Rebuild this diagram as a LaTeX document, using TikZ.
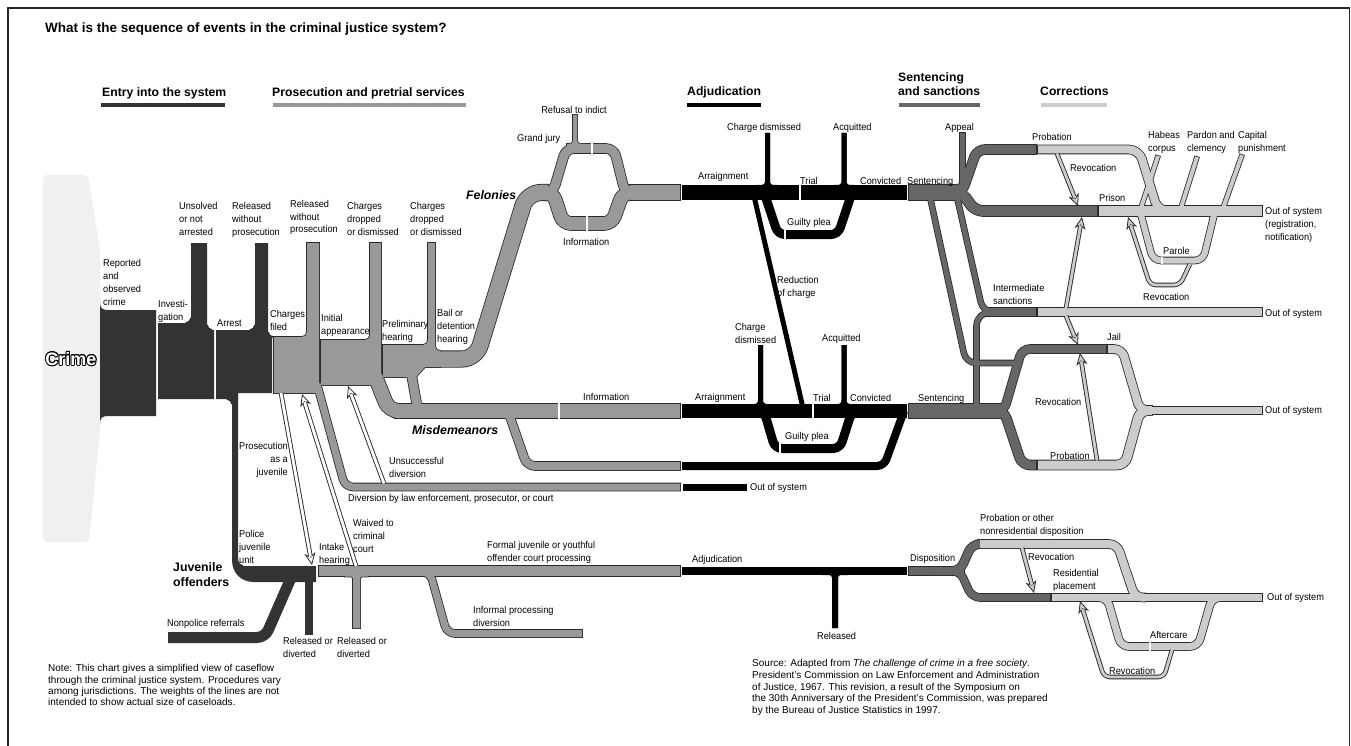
\documentclass[tikz,border=0pt]{standalone}
\usepackage{fontspec}
\setmainfont{Liberation Sans}
\newfontfamily\lbfont{Liberation Sans}[FakeStretch=0.93]
\usetikzlibrary{arrows.meta}
\definecolor{cE}{HTML}{333333}
\definecolor{cP}{HTML}{999999}
\definecolor{cS}{HTML}{666666}
\definecolor{cC}{HTML}{CCCCCC}
\definecolor{ol}{HTML}{2A2A2A}
\definecolor{bgc}{HTML}{F0F0F0}
\pgfdeclarelayer{bg}
\pgfsetlayers{bg,main}
\newcommand\Bnd[4][8]{%
  \pgfmathsetmacro\olw{#3+1.6}%
  \begin{pgfonlayer}{bg}\draw[draw=ol,line width=\olw pt,rounded corners=#1pt,shorten <=-0.8pt,shorten >=-0.8pt] #4;\end{pgfonlayer}%
  \draw[draw=#2,line width=#3pt,rounded corners=#1pt] #4;}
\newcommand\Blk[2]{%
  \begin{pgfonlayer}{bg}\draw[draw=ol,line width=1.6pt] #2;\end{pgfonlayer}%
  \fill[#1] #2;}
\newcommand\Fil[5]{%
  \begin{scope}[shift={(#2,#3)},xscale=#4,yscale=#5]
  \begin{pgfonlayer}{bg}\draw[draw=ol,line width=1.6pt] (0,-5) .. controls (0,-2.2) and (-2.2,0) .. (-5,0);\end{pgfonlayer}
  \fill[#1] (0,-5) .. controls (0,-2.2) and (-2.2,0) .. (-5,0) -- (0,0) -- cycle;
  \end{scope}}
\newcommand\Gap[3]{\draw[white,line width=1.8pt] (#1,#2) -- (#1,#3);}
\newcommand\Arw[2]{%
  \draw[draw=ol,line width=4.6pt,rounded corners=6pt,-{Stealth[length=12pt,width=11pt,inset=3.5pt,fill=#1,line width=0.8pt]}] #2;
  \draw[draw=#1,line width=2.8pt,rounded corners=6pt,shorten >=8.5pt] #2;}
\begin{document}
\begin{tikzpicture}[x=1pt,y=-1pt,
  lb/.style={font=\lbfont\fontsize{9.9}{12.8}\selectfont,inner sep=0pt,anchor=north west,align=left},
  nt/.style={font=\fontsize{10}{11.7}\selectfont,inner sep=0pt,anchor=north west,align=left},
  hd/.style={font=\fontsize{12.2}{14}\selectfont\bfseries,inner sep=0pt,anchor=north west,align=left},
  bi/.style={font=\fontsize{12.3}{15}\selectfont\bfseries\itshape,inner sep=0pt,anchor=north west,align=left},
  bk/.style={draw=black,line width=#1pt,rounded corners=7pt},
  dk/.style={draw=cE,line width=#1pt,rounded corners=8pt}]
\useasboundingbox (0,0) rectangle (1351,746);
\draw[line width=1.3pt,black!85] (8,746) -- (8,8) -- (1349.5,8) -- (1349.5,746);

% title and headers
\node[font=\fontsize{13.5}{15}\selectfont\bfseries,inner sep=0pt,anchor=north west] (title) at (45,22.5) {What is the sequence of events in the criminal justice system?};
\node[hd] (h1) at (102,87.5) {Entry into the system};
\fill[cE] (101,103) rectangle (225,107.5);
\node[hd] (h2) at (272,87.5) {Prosecution and pretrial services};
\fill[cP] (273,103) rectangle (466,107.5);
\node[hd] (h3) at (687,86.5) {Adjudication};
\fill[black] (687,103) rectangle (761,107.5);
\node[hd] (h4) at (898,72.5) {Sentencing\\and sanctions};
\fill[cS] (899,103) rectangle (980,107.5);
\node[hd] (h5) at (1040,86.5) {Corrections};
\fill[cC] (1041,103) rectangle (1107,107.5);

% crime
\fill[bgc,rounded corners=4pt] (43,175) -- (88,175) -- (100,250) -- (100,430) -- (89,542) -- (43,542) -- cycle;
\fill[cE] (100,302) .. controls (100,308) and (102,310) .. (108,310) -- (156,310) -- (156,416) -- (108,416) .. controls (102,416) and (100,418) .. (100,424) -- cycle;
\foreach \a in {0,30,...,330} \path (71,359) ++(\a:0.9) node[font=\fontsize{18}{18}\selectfont\bfseries,text=black] {Crime};
\node[font=\fontsize{18}{18}\selectfont\bfseries,text=white] (crime) at (71,359) {Crime};

% entry blocks
\fill[cE] (158,323) -- (191,323) -- (191,243) -- (207,243) -- (207,330) -- (214,330) -- (214,399) -- (158,399) -- cycle;
\fill[cE] (216,330) -- (255,330) -- (255,243) -- (268,243) -- (268,337) -- (272,337) -- (272,393) -- (238,393) -- (238,399) -- (216,399) -- cycle;
\fill[cE] (232,396) -- (232,560) .. controls (232,573) and (241,582) .. (254,582) -- (316,582) -- (316,566) -- (238,566) -- (238,396) -- cycle;
\Fil{cE}{191}{323}{1}{1}\Fil{cE}{207}{330}{-1}{1}\Fil{cE}{255}{330}{1}{1}\Fil{cE}{268}{337}{-1}{1}
\Fil{cE}{232}{399}{1}{-1}\Fil{cE}{238}{566}{-1}{1}
\draw[dk=11] (168,637.5) -- (265,637.5) -- (291,578);
\draw[cE,line width=8pt] (309,578) -- (309,635);

% prosecution blocks
\Blk{cP}{(274,337) -- (307,337) -- (307,243) -- (319,243) -- (319,393) -- (274,393) -- cycle}
\Blk{cP}{(321,340) -- (370,340) -- (370,243) -- (381,243) -- (381,385) -- (321,385) -- cycle}
\Blk{cP}{(383,345) -- (428,345) -- (428,243) -- (435,243) -- (435,351) -- (440,351) -- (440,367) -- (425,367) -- (416,377) -- (383,377) -- cycle}
\Fil{cP}{307}{337}{1}{1}\Fil{cP}{370}{340}{1}{1}\Fil{cP}{428}{345}{1}{1}\Fil{cP}{435}{351}{-1}{1}

% felonies
\Bnd[14]{cP}{15.5}{(430,359) -- (476,359) -- (527,192.5) -- (548,192.5)}
\Bnd[8]{cP}{9}{(540,192.5) -- (553,192.5) -- (566,148.5) -- (614,148.5) -- (625,192.5) -- (636,192.5)}
\Bnd[8]{cP}{13}{(540,192.5) -- (553,192.5) -- (563,223.5) -- (612,223.5) -- (623,192.5) -- (636,192.5)}
\Bnd{cP}{15}{(630,192.5) -- (680,192.5)}
\Bnd[5]{cP}{4}{(575,115) -- (575,146) -- (567,146)}
\Bnd[5]{cP}{4}{(575,115) -- (575,146) -- (583,146)}
% misdemeanors
\Bnd[10]{cP}{14}{(375,376) -- (389,411) -- (400,411)}
\Bnd[8]{cP}{9}{(411,372) -- (418,411) -- (430,411)}
\Bnd{cP}{14}{(395,411) -- (680,411)}
\Bnd[8]{cP}{8}{(500,411) -- (508,411) -- (527,466) -- (680,466)}
\Bnd[8]{cP}{7}{(317,384) -- (345,487) -- (680,487)}
% juvenile gray
\Bnd{cP}{10}{(319,571) -- (680,571)}
\Bnd[6]{cP}{7}{(345,573) -- (356.5,573) -- (356.5,628)}
\Bnd[6]{cP}{7}{(368,573) -- (356.5,573) -- (356.5,628)}
\Bnd[8]{cP}{7}{(418,572) -- (430,572) -- (447,633.5) -- (582,633.5)}
\Gap{592}{143}{154}\Gap{587}{216}{231}\Gap{559}{403}{419}

% adjudication
\draw[bk=15] (682,192.5) -- (907,192.5);
\draw[bk=14] (682,411) -- (907,411);
\draw[bk=8] (682,466) -- (884,466) -- (904,411);
\draw[bk=7] (683,487) -- (747,487);
\draw[bk=8] (682,571) -- (907,571);
\draw[bk=5,rounded corners=6pt] (767.5,133) -- (767.5,187.5) -- (757,187.5);
\draw[bk=5,rounded corners=6pt] (767.5,133) -- (767.5,187.5) -- (778,187.5);
\draw[bk=5,rounded corners=6pt] (844,133) -- (844,187.5) -- (834,187.5);
\draw[bk=5,rounded corners=6pt] (844,133) -- (844,187.5) -- (854,187.5);
\draw[bk=5,rounded corners=6pt] (760.5,345) -- (760.5,406.5) -- (750,406.5);
\draw[bk=5,rounded corners=6pt] (760.5,345) -- (760.5,406.5) -- (771,406.5);
\draw[bk=5,rounded corners=6pt] (844,345) -- (844,406.5) -- (834,406.5);
\draw[bk=5,rounded corners=6pt] (844,345) -- (844,406.5) -- (854,406.5);
\draw[bk=5] (754,196) -- (803,408);
\draw[bk=9] (750,192.5) -- (764,192.5) -- (778,234.5) -- (838,234.5) -- (852,192.5) -- (866,192.5);
\draw[bk=9] (750,411) -- (764,411) -- (775,448.5) -- (840,448.5) -- (852,411) -- (866,411);
\draw[bk=6,rounded corners=6pt] (822,572) -- (835,572) -- (835,628);
\draw[bk=6,rounded corners=6pt] (848,572) -- (835,572) -- (835,628);
\Gap{800}{184}{201}\Gap{813}{403}{419}\Gap{785}{229}{240}\Gap{780}{443}{454}

% sentencing
\Bnd{cS}{15}{(909,192.5) -- (966,192.5)}
\Bnd[8]{cS}{9}{(930,192.5) -- (962,192.5) -- (977,149.5) -- (1036,149.5)}
\Bnd[8]{cS}{10}{(930,192.5) -- (962,192.5) -- (975,211) -- (1097,211)}
\Bnd[5]{cS}{5}{(962.5,133) -- (962.5,187.5) -- (953,187.5)}
\Bnd[10]{cS}{5}{(930,197) -- (966,363) -- (1018,363)}
\Bnd[10]{cS}{5}{(957,197) -- (983,312) -- (1000,312)}
\Bnd{cS}{8}{(983,312) -- (1036,312)}
\Bnd{cS}{14}{(909,411) -- (1007,411)}
\Bnd[14]{cS}{5}{(976.5,406) -- (976.5,312) -- (1000,312)}
\Bnd[8]{cS}{8}{(960,411) -- (1004,411) -- (1022,349) -- (1106,349)}
\Bnd[8]{cS}{9}{(960,411) -- (1004,411) -- (1022,465) -- (1036,465)}
\Bnd{cS}{8}{(909,571) -- (964,571)}
\Bnd[8]{cS}{8}{(930,571) -- (960,571) -- (972,544) -- (978,544)}
\Bnd[8]{cS}{7}{(930,571) -- (960,571) -- (972,597.5) -- (1050,597.5)}

% corrections
\Bnd[10]{cC}{8}{(1038,149.5) -- (1139,149.5) -- (1158,211) -- (1166,211)}
\Bnd{cC}{10}{(1099,211) -- (1262,211)}
\Bnd{cC}{4}{(1140,211) -- (1158,156)}
\Bnd{cC}{4}{(1180,211) -- (1197,157)}
\Bnd{cC}{4}{(1222,211) -- (1242,155)}
\Bnd[8]{cC}{6}{(1140,211) -- (1153,260.5) -- (1203,260.5) -- (1215,211)}
\Bnd{cC}{8}{(1038,312) -- (1262,312)}
\Bnd[8]{cC}{8}{(1108,349) -- (1122,349) -- (1140,410.5) -- (1152,410.5)}
\Bnd[8]{cC}{9}{(1038,465) -- (1125,465) -- (1140,410.5) -- (1152,410.5)}
\Bnd{cC}{7}{(1140,410.5) -- (1262,410.5)}
\Bnd[8]{cC}{8}{(980,544) -- (1117,544) -- (1135,597.5) -- (1145,597.5)}
\Bnd{cC}{7}{(1052,597.5) -- (1262,597.5)}
\Bnd[8]{cC}{7}{(1098,597.5) -- (1107,597.5) -- (1121,646.5) -- (1198,646.5) -- (1212,597.5) -- (1222,597.5)}
\Gap{1162}{257}{264}\Gap{1150}{642}{651}

% arrows
\Arw{white}{(281,393) -- (312,565)}
\Arw{white}{(356,566) -- (302,394)}
\Arw{white}{(384,483.5) -- (348,386)}
\Arw{cC}{(1057,153.5) -- (1078,206)}
\Arw{cC}{(1066,308) -- (1082,217)}
\Arw{cC}{(1190,264) -- (1180,285) -- (1150,285) -- (1128,217)}
\Arw{cC}{(1066,316) -- (1078,345)}
\Arw{cC}{(1097,460.5) -- (1080,353)}
\Arw{cC}{(1022,548) -- (1034,593)}
\Arw{cC}{(1172,650) -- (1164,677) -- (1104,677) -- (1080,601)}

% labels entry / prosecution
\node[lb] (l1) at (179,202.5) {Unsolved\\or not\\arrested};
\node[lb] (l2) at (232,202.5) {Released\\without\\prosecution};
\node[lb] (l3) at (290,200) {Released\\without\\prosecution};
\node[lb] (l4) at (347,202.5) {Charges\\dropped\\or dismissed};
\node[lb] (l5) at (410,202.5) {Charges\\dropped\\or dismissed};
\node[lb] (l6) at (103,259.5) {Reported\\and\\observed\\crime};
\node[lb] (l7) at (158,300.5) {Investi-\\gation};
\node[lb] (l8) at (217,319.5) {Arrest};
\node[lb] (l9) at (270,310.5) {Charges\\filed};
\node[lb] (l10) at (321,314.5) {Initial\\appearance};
\node[lb] (l11) at (382,320.5) {Preliminary\\hearing};
\node[lb] (l12) at (437,309.5) {Bail or\\detention\\hearing};
\node[bi] (fel) at (466,190.4) {Felonies};
\node[lb] (l13) at (517,134.5) {Grand jury};
\node[lb,anchor=north] (l14) at (574,106.5) {Refusal to indict};
\node[lb] (l15) at (563,238.5) {Information};
\node[bi] (mis) at (412,425.4) {Misdemeanors};
\node[lb] (l16) at (583,393.5) {Information};
\node[lb] (l17) at (389,457.5) {Unsuccessful\\diversion};
\node[lb] (l18) at (348,494.5) {Diversion by law enforcement, prosecutor, or court};
\node[lb,anchor=north east,align=right] (l19) at (288,442.5) {Prosecution\\as a\\juvenile};
\node[lb] (l20) at (239,530.5) {Police\\juvenile\\unit};
\node[hd,font=\fontsize{12.3}{15}\selectfont\bfseries] (juv) at (173,562.5) {Juvenile\\offenders};
\node[lb] (l21) at (167,619.5) {Nonpolice referrals};
\node[lb] (l22) at (283,637.5) {Released or\\diverted};
\node[lb] (l23) at (337,637.5) {Released or\\diverted};
\node[lb] (l24) at (319,543.5) {Intake\\hearing};
\node[lb] (l25) at (353,519.5) {Waived to\\criminal\\court};
\node[lb] (l26) at (487,541.5) {Formal juvenile or youthful\\offender court processing};
\node[lb] (l27) at (473,606.5) {Informal processing\\diversion};
\node[lb] (l28) at (692,555.5) {Adjudication};
\node[lb] (l29) at (817,632.5) {Released};
\node[lb] (l30) at (910,554.5) {Disposition};
\node[lb] (l31) at (980,514.5) {Probation or other\\nonresidential disposition};
\node[lb] (l32) at (1028,553.5) {Revocation};
\node[lb] (l33) at (1053,569.5) {Residential\\placement};
\node[lb] (l34) at (1267,593.5) {Out of system};
\node[lb] (l35) at (1150,631.5) {Aftercare};
\node[lb] (l36) at (1109,667.5) {Revocation};
% adjudication labels
\node[lb] (l37) at (698,172.5) {Arraignment};
\node[lb] (l38) at (727,123.5) {Charge dismissed};
\node[lb] (l39) at (833,123.5) {Acquitted};
\node[lb] (l40) at (800,177.5) {Trial};
\node[lb] (l41) at (860,177.5) {Convicted};
\node[lb] (l42) at (907,177.5) {Sentencing};
\node[lb] (l43) at (945,123.5) {Appeal};
\node[lb] (l44) at (787,218.5) {Guilty plea};
\node[lb] (l45) at (695,393.5) {Arraignment};
\node[lb] (l46) at (777,276.5) {Reduction\\of charge};
\node[lb] (l47) at (735,323.5) {Charge\\dismissed};
\node[lb] (l48) at (822,334.5) {Acquitted};
\node[lb] (l49) at (813,394.5) {Trial};
\node[lb] (l50) at (850,394.5) {Convicted};
\node[lb] (l51) at (918,394.5) {Sentencing};
\node[lb] (l52) at (785,432.5) {Guilty plea};
\node[lb] (l53) at (750,483.5) {Out of system};
% corrections labels
\node[lb] (l54) at (993,284.5) {Intermediate\\sanctions};
\node[lb] (l55) at (1032,133.5) {Probation};
\node[lb] (l56) at (1070,164.5) {Revocation};
\node[lb] (l57) at (1099,194.5) {Prison};
\node[lb] (l58) at (1148,131.5) {Habeas\\corpus};
\node[lb] (l59) at (1187,131.5) {Pardon and\\clemency};
\node[lb] (l60) at (1238,131.5) {Capital\\punishment};
\node[lb] (l61) at (1265,207.5) {Out of system\\(registration,\\notification)};
\node[lb] (l62) at (1163,247.5) {Parole};
\node[lb] (l63) at (1143,293.5) {Revocation};
\node[lb] (l64) at (1265,309.5) {Out of system};
\node[lb] (l65) at (1107,333.5) {Jail};
\node[lb] (l66) at (1035,398.5) {Revocation};
\node[lb] (l67) at (1265,406.5) {Out of system};
\node[lb] (l68) at (1050,452.5) {Probation};
% notes
\node[nt,font=\fontsize{10}{11.3}\selectfont] (note) at (48,664.3) {Note: This chart gives a simplified view of caseflow\\through the criminal justice system. Procedures vary\\among jurisdictions. The weights of the lines are not\\intended to show actual size of caseloads.};
\node[nt] (src) at (752,659.3) {Source: Adapted from \textit{The challenge of crime in a free society}.\\President's Commission on Law Enforcement and Administration\\of Justice, 1967. This revision, a result of the Symposium on\\the 30th Anniversary of the President's Commission, was prepared\\by the Bureau of Justice Statistics in 1997.};
\end{tikzpicture}
\end{document}
